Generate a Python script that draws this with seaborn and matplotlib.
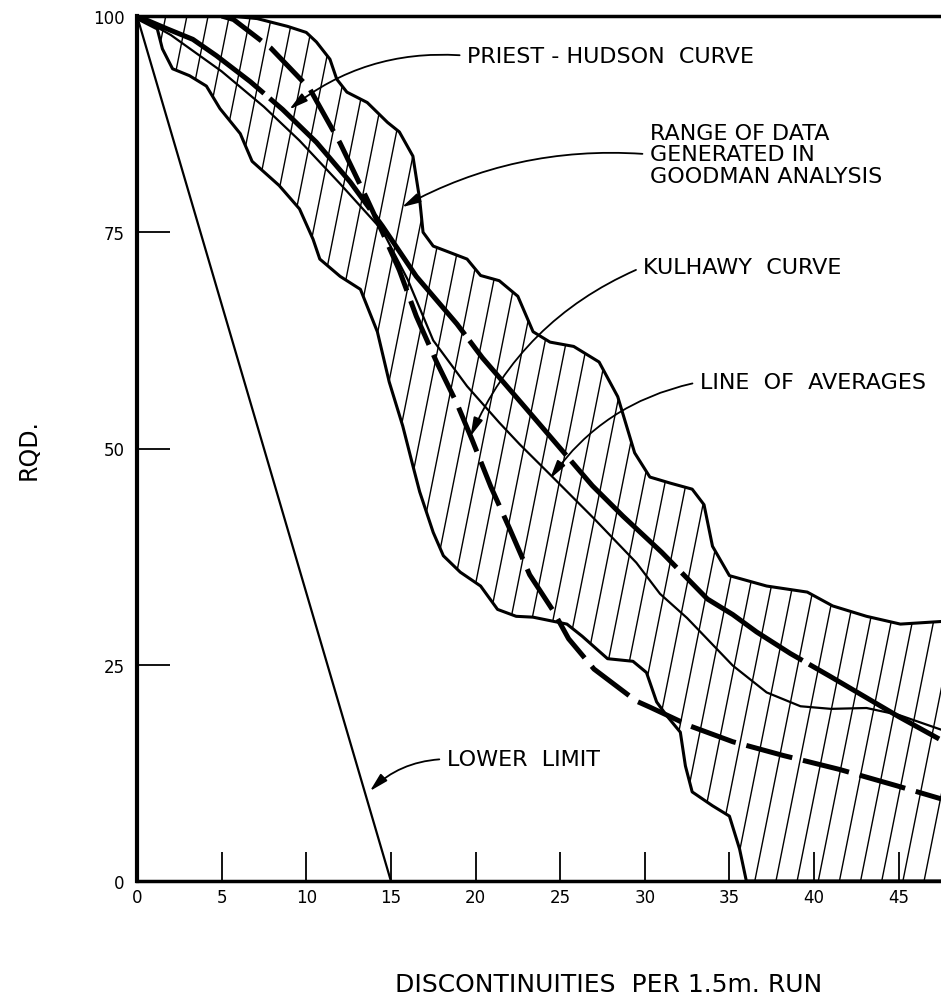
import numpy as np
import matplotlib.pyplot as plt
import seaborn as sns

# range of data generated in Goodman analysis (hatched band)
upper_x = [0, 5.5, 7.1, 8.9, 10.0, 10.6, 11.4, 11.8, 12.4, 13.6, 14.8, 15.5, 16.3, 16.7, 16.9, 17.5,
           19.5, 20.3, 21.4, 22.5, 23.4, 24.4, 25.8, 27.3, 28.4, 29.4, 30.3, 31.5, 32.8, 33.5, 34.0,
           35.0, 37.2, 39.6, 41.1, 43.1, 45.1, 47.5]
upper_y = [100, 100, 99.7, 98.8, 98.1, 97.0, 95.0, 92.7, 91.2, 90.0, 87.7, 86.6, 83.8, 78.8, 75.0, 73.4,
           71.9, 70.0, 69.4, 67.6, 63.5, 62.3, 61.8, 60.0, 56.0, 49.5, 46.7, 46.0, 45.3, 43.5, 38.7,
           35.3, 34.1, 33.4, 31.8, 30.6, 29.7, 30.0]
lower_x = [0, 0.2, 1.2, 1.5, 2.1, 3.1, 4.1, 4.9, 6.1, 6.8, 8.4, 9.6, 10.4, 10.8, 12.0, 13.2, 14.2,
           14.9, 15.7, 16.3, 16.7, 17.5, 18.1, 19.1, 20.3, 21.3, 22.4, 23.4, 25.4, 26.3, 27.8, 29.3,
           30.1, 30.7, 31.3, 32.1, 32.4, 32.8, 34.0, 35.0, 35.6, 36.0, 47.5]
lower_y = [100, 99.5, 98.5, 96.2, 93.9, 93.1, 91.9, 89.3, 86.4, 83.2, 80.4, 77.7, 74.2, 71.9, 69.9, 68.4, 63.5,
           57.7, 52.6, 48.0, 45.0, 40.3, 37.6, 35.7, 34.1, 31.4, 30.6, 30.5, 29.7, 28.3, 25.7, 25.4,
           24.1, 20.7, 19.1, 17.2, 13.3, 10.3, 8.7, 7.5, 3.7, 0, 0]

# Priest - Hudson curve
ph_x = [0, 1.8, 3.3, 4.7, 6.7, 8.6, 10.6, 12.6, 14.5, 16.5, 18.9, 20.4, 23.0, 26.9, 28.7, 31.0,
        33.7, 35.2, 36.6, 38.6, 41.0, 43.0, 45.0, 47.5]
ph_y = [100, 98.5, 97.3, 95.4, 92.4, 89.2, 85.4, 80.8, 75.7, 69.9, 64.4, 60.5, 54.6, 45.7, 42.2, 38.0,
        32.6, 30.8, 28.8, 26.3, 23.6, 21.3, 19.0, 16.3]

# Kulhawy curve
kul_x = [5.0, 5.7, 7.9, 10.2, 12.0, 13.6, 14.5, 15.5, 16.5, 17.7, 18.9, 19.8, 20.9, 22.0, 23.2, 24.6,
         25.5, 27.0, 29.5, 30.3, 32.7, 35.2, 38.2, 41.5, 44.9, 47.5]
kul_y = [100, 99.6, 96.3, 91.6, 85.3, 78.8, 75.0, 70.6, 65.3, 60.0, 55.2, 51.0, 45.6, 40.8, 35.4, 31.2,
         28.0, 24.5, 20.8, 20.1, 17.9, 16.1, 14.5, 12.9, 11.0, 9.5]

# line of averages
avg_x = [0, 2, 5, 7.5, 9.6, 12, 14.5, 16, 17.5, 19.5, 21.4, 22.6, 24.4, 27, 29.5, 30.9, 32.5, 35.2,
         37.2, 39.2, 41, 43.1, 45, 47.5]
avg_y = [100, 97.8, 93.6, 89.5, 85.6, 80.6, 75.2, 69.5, 62.5, 57.2, 53.0, 50.5, 47.0, 41.9, 36.8, 33.2,
         30.4, 24.9, 21.8, 20.2, 19.9, 20.0, 19.2, 17.5]

# lower limit
limit_x = [0, 15]
limit_y = [100, 0]

x_ticks = [0, 5, 10, 15, 20, 25, 30, 35, 40, 45]
y_ticks = [0, 25, 50, 75, 100]

sns.set_style('white')
plt.rcParams['font.family'] = ['DejaVu Sans']
plt.rcParams['text.color'] = 'black'
plt.rcParams['axes.labelcolor'] = 'black'

fig = plt.figure(figsize=(9.41, 10.03), dpi=100)
ax = fig.add_axes([137 / 941, 121 / 1003, 804 / 941, 865 / 1003])

# hatching clipped to the band
band = ax.fill(np.r_[upper_x, lower_x[::-1]], np.r_[upper_y, lower_y[::-1]],
               facecolor='none', edgecolor='none')[0]
for x0 in np.arange(-11, 48, 1.25):
    ln, = ax.plot([x0, x0 + 10.2], [0, 100], color='black', linewidth=1.0)
    ln.set_clip_path(band)

sns.lineplot(x=upper_x, y=upper_y, ax=ax, color='black', linewidth=2.2, sort=False, estimator=None)
sns.lineplot(x=lower_x, y=lower_y, ax=ax, color='black', linewidth=2.2, sort=False, estimator=None)
sns.lineplot(x=avg_x, y=avg_y, ax=ax, color='black', linewidth=1.6, sort=False, estimator=None)
sns.lineplot(x=ph_x, y=ph_y, ax=ax, color='black', linewidth=3.6, sort=False, estimator=None,
             linestyle=(0, (30, 1.5)))
sns.lineplot(x=kul_x, y=kul_y, ax=ax, color='black', linewidth=3.6, sort=False, estimator=None,
             linestyle=(0, (9.5, 2.2)))
sns.lineplot(x=limit_x, y=limit_y, ax=ax, color='black', linewidth=1.6, sort=False, estimator=None)

notes = [
    ('PRIEST - HUDSON  CURVE', (19.5, 95.4), (9.0, 89.2), 0.2),
    ('RANGE OF DATA\nGENERATED IN\nGOODMAN ANALYSIS', (30.3, 84.0), (15.65, 77.9), 0.15),
    ('KULHAWY  CURVE', (29.9, 71.0), (19.7, 51.4), 0.2),
    ('LINE  OF  AVERAGES', (33.25, 57.7), (24.4, 46.5), 0.2),
    ('LOWER  LIMIT', (18.3, 14.1), (13.76, 10.4), 0.2),
]
for text, pos, tip, rad in notes:
    ax.annotate(text, xy=tip, xytext=pos, ha='left', va='center', fontsize=16, color='black',
                linespacing=1.1, annotation_clip=False,
                arrowprops=dict(arrowstyle='-|>,head_length=0.7,head_width=0.18',
                                connectionstyle=f'arc3,rad={rad}', color='black',
                                linewidth=1.3, shrinkA=3, shrinkB=0, relpos=(0, 0.5)))

ax.set_xlim(0, 47.5)
ax.set_ylim(0, 100)
ax.set_xticks(x_ticks)
ax.set_yticks(y_ticks)
ax.tick_params(axis='x', bottom=True, direction='in', length=21, width=1.3, labelsize=12, pad=5,
               color='black', labelcolor='black')
ax.tick_params(axis='y', left=True, direction='in', length=24, width=1.3, labelsize=12, pad=9,
               color='black', labelcolor='black')

for side in ['left', 'bottom', 'top']:
    ax.spines[side].set_visible(True)
    ax.spines[side].set_color('black')
ax.spines['left'].set_linewidth(3.0)
ax.spines['bottom'].set_linewidth(2.5)
ax.spines['top'].set_linewidth(2.5)
ax.spines['right'].set_visible(False)

ax.set_xlabel('DISCONTINUITIES  PER 1.5m. RUN', fontsize=18)
ax.xaxis.set_label_coords(0.586, -0.105)
ax.set_ylabel('RQD.', fontsize=17)
ax.yaxis.set_label_coords(-0.12, 0.5)

plt.savefig('out.png', dpi=100)
